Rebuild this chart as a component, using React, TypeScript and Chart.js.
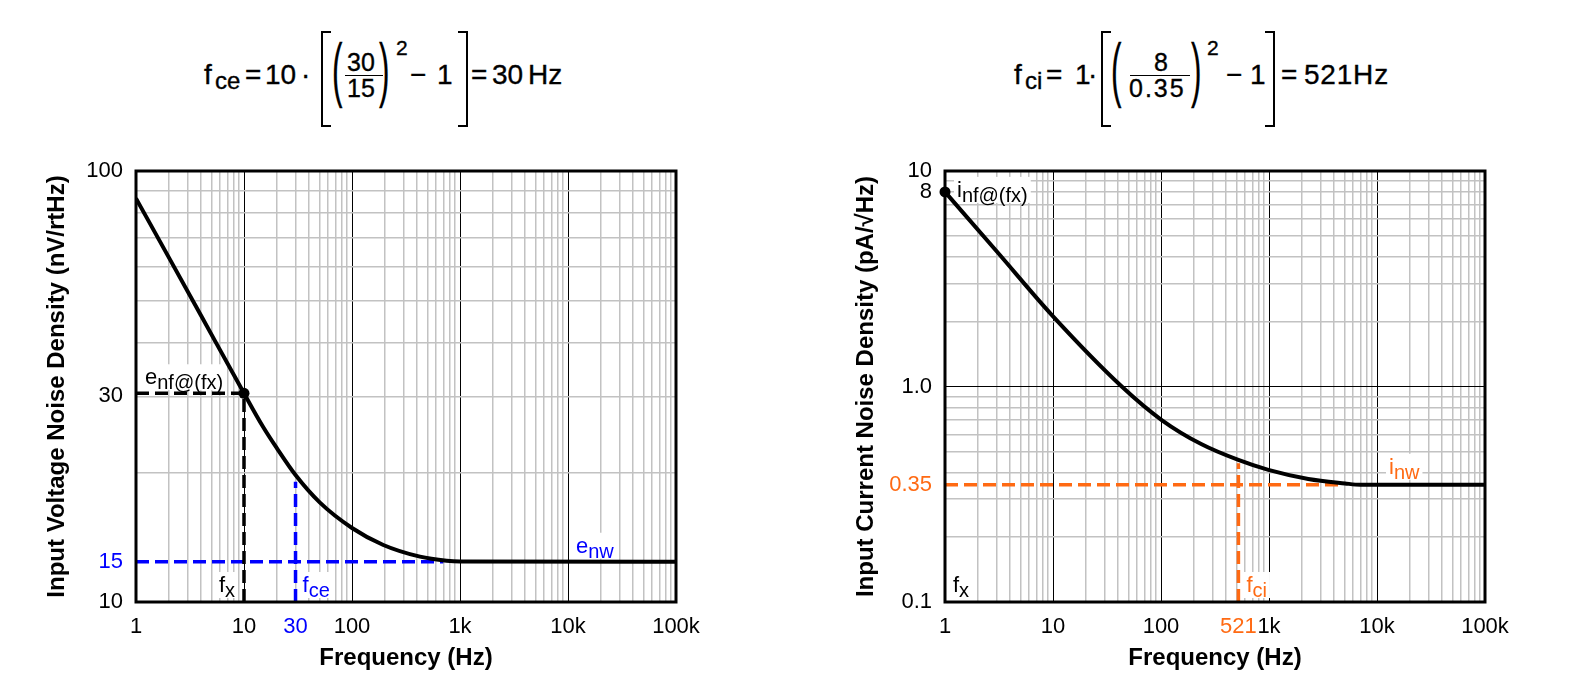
import React, { useEffect, useRef } from "react";
import { Chart, registerables } from "chart.js";
Chart.register(...registerables);

const FONT = "'Liberation Sans', Arial, Helvetica, sans-serif";
const BLUE = "#0000ff";
const ORANGE = "#ff6a13";
const GRID_MINOR = "#c2c2c2";
const GRID_MAJOR = "#000000";

// ---------- Left chart: input voltage noise ----------
const vFreq = [1, 2, 4, 10, 15, 20, 30, 50.5, 100, 195, 426, 753, 1000, 100000];
const vNoise = [86.4, 63.2, 46.2, 30.5, 25.5, 22.8, 19.7, 17.0, 14.85, 13.56, 12.74, 12.47, 12.42, 12.4];
const vFx = 10;
const vEnf = 30.5;
const vFce = 30;
const vFceTop = 19.0;
const vEnw = 12.4;
const vEnwEnd = 700;
const vXTicks = [1, 10, 30, 100, 1000, 10000, 100000];
const vXLabels = ["1", "10", "30", "100", "1k", "10k", "100k"];
const vYTicks = [10, 12.4, 30, 100];
const vYLabels = ["10", "15", "30", "100"];

// ---------- Right chart: input current noise ----------
const iFreq = [1, 3.12, 9.72, 43.3, 101.5, 238, 520, 986, 2312, 5054, 7000, 100000];
const iNoise = [8.0, 4.15, 2.15, 1.0, 0.699, 0.539, 0.456, 0.41, 0.372, 0.355, 0.35, 0.35];
const iFx = 1;
const iInf = 8;
const iFci = 521;
const iFciTop = 0.44;
const iInw = 0.35;
const iInwEnd = 4800;
const iXTicks = [1, 10, 100, 521, 1000, 10000, 100000];
const iXLabels = ["1", "10", "100", "521", "1k", "10k", "100k"];
const iYTicks = [0.1, 0.35, 1, 8, 10];
const iYLabels = ["0.1", "0.35", "1.0", "8", "10"];

function logGrid(min: number, max: number): number[] {
  const out: number[] = [];
  const d0 = Math.floor(Math.log10(min) + 1e-9);
  const d1 = Math.ceil(Math.log10(max) - 1e-9);
  for (let d = d0; d <= d1; d++) {
    for (let m = 1; m <= 9; m++) {
      const v = parseFloat((m * Math.pow(10, d)).toPrecision(6));
      if (v >= min * 0.9999 && v <= max * 1.0001) out.push(v);
    }
  }
  return out;
}

const same = (a: number, b: number) => Math.abs(a - b) <= Math.abs(b) * 1e-6;
const isDecade = (v: number) => Math.abs(Math.log10(v) - Math.round(Math.log10(v))) < 1e-6;

function makeAxis(
  min: number,
  max: number,
  tickVals: number[],
  tickLabels: string[],
  hiVal: number,
  hiColor: string,
  title: string,
  isX: boolean
) {
  const grid = logGrid(min, max);
  const all = [...grid];
  tickVals.forEach((v) => {
    if (!all.some((g) => same(g, v))) all.push(v);
  });
  all.sort((a, b) => a - b);
  const labelOf = (v: number) => {
    const i = tickVals.findIndex((t) => same(t, v));
    return i >= 0 ? tickLabels[i] : "";
  };
  const inGrid = (v: number) => grid.some((g) => same(g, v));
  return {
    type: "logarithmic",
    min,
    max,
    afterBuildTicks: (s: any) => {
      s.ticks = all.map((v) => ({ value: v, major: false }));
    },
    afterFit: (s: any) => {
      if (isX) s.height = 83;
      else s.width = 136;
    },
    border: { display: false },
    grid: {
      drawTicks: false,
      color: (c: any) => {
        const v = c.tick ? c.tick.value : NaN;
        if (!inGrid(v)) return "rgba(0,0,0,0)";
        return isDecade(v) ? GRID_MAJOR : GRID_MINOR;
      },
      lineWidth: (c: any) => {
        const v = c.tick ? c.tick.value : NaN;
        return isDecade(v) ? 1 : 1.5;
      },
    },
    ticks: {
      autoSkip: false,
      maxRotation: 0,
      minRotation: 0,
      padding: isX ? 12 : 13,
      font: { family: FONT, size: 22 },
      color: (c: any) => (c.tick && same(c.tick.value, hiVal) ? hiColor : "#000"),
      callback: (v: any) => labelOf(Number(v)),
    },
    title: {
      display: true,
      text: title,
      color: "#000",
      font: { family: FONT, size: 24, weight: "bold" },
      padding: isX ? { top: 0, bottom: 12 } : { top: 43, bottom: 0 },
    },
  };
}

type Lbl = {
  x: number;
  y: number;
  dx: number;
  dy: number;
  main: string;
  sub: string;
  color: string;
  bg: boolean;
  align?: "left" | "right";
};

function labelPlugin(labels: Lbl[]) {
  return {
    id: "noteLabels",
    beforeDatasetsDraw(chart: any) {
      const { ctx, scales } = chart;
      const xs = scales.x;
      const ys = scales.y;
      ctx.save();
      labels.forEach((l) => {
        const px = xs.getPixelForValue(l.x) + l.dx;
        const py = ys.getPixelForValue(l.y) + l.dy;
        const mainFont = `22px ${FONT}`;
        const subFont = `20px ${FONT}`;
        ctx.font = mainFont;
        const wm = ctx.measureText(l.main).width;
        ctx.font = subFont;
        const ws = ctx.measureText(l.sub).width;
        const w = wm + ws;
        const left = l.align === "right" ? px - w : px;
        if (l.bg) {
          ctx.fillStyle = "#ffffff";
          ctx.fillRect(left - 3, py - 20, w + 6, 26);
        }
        ctx.fillStyle = l.color;
        ctx.textBaseline = "alphabetic";
        ctx.textAlign = "left";
        ctx.font = mainFont;
        ctx.fillText(l.main, left, py);
        ctx.font = subFont;
        ctx.fillText(l.sub, left + wm, py + 5);
      });
      ctx.restore();
    },
  };
}

const framePlugin = {
  id: "frame",
  afterDraw(chart: any) {
    const { ctx, chartArea: a } = chart;
    ctx.save();
    ctx.strokeStyle = "#000";
    ctx.lineWidth = 3;
    ctx.strokeRect(a.left, a.top, a.right - a.left, a.bottom - a.top);
    ctx.restore();
  },
};

const pts = (xs: number[], ys: number[]) => xs.map((x, i) => ({ x, y: ys[i] }));

function dashed(data: any[], color: string) {
  return {
    data,
    borderColor: color,
    borderWidth: 3.5,
    borderDash: [13, 6],
    pointRadius: 0,
    fill: false,
    tension: 0,
    order: 2,
  };
}

function buildConfig(side: "v" | "i") {
  const isV = side === "v";
  const curve = {
    data: isV ? pts(vFreq, vNoise) : pts(iFreq, iNoise),
    borderColor: "#000",
    borderWidth: 4,
    pointRadius: 0,
    fill: false,
    cubicInterpolationMode: "monotone",
    order: 1,
  };
  const dot = {
    data: isV ? [{ x: vFx, y: vEnf }] : [{ x: iFx, y: iInf }],
    showLine: false,
    pointRadius: 5.5,
    pointBackgroundColor: "#000",
    pointBorderColor: "#000",
    pointBorderWidth: 0,
    clip: false,
    order: 0,
  };
  const datasets: any[] = [curve, dot];
  if (isV) {
    datasets.push(dashed([{ x: 1, y: vEnf }, { x: vFx, y: vEnf }], "#000"));
    datasets.push(dashed([{ x: vFx, y: 10 }, { x: vFx, y: vEnf }], "#000"));
    datasets.push(dashed([{ x: 1, y: vEnw }, { x: vEnwEnd, y: vEnw }], BLUE));
    datasets.push(dashed([{ x: vFce, y: 10 }, { x: vFce, y: vFceTop }], BLUE));
  } else {
    datasets.push(dashed([{ x: 1, y: iInw }, { x: iInwEnd, y: iInw }], ORANGE));
    datasets.push(dashed([{ x: iFci, y: 0.1 }, { x: iFci, y: iFciTop }], ORANGE));
  }
  const labels: Lbl[] = isV
    ? [
        { x: 1, y: vEnf, dx: 9, dy: -9, main: "e", sub: "nf@(fx)", color: "#000", bg: true },
        { x: vFx, y: 10, dx: -9, dy: -10, main: "f", sub: "x", color: "#000", bg: true, align: "right" },
        { x: vFce, y: 10, dx: 7, dy: -10, main: "f", sub: "ce", color: BLUE, bg: true },
        { x: 10000, y: vEnw, dx: 8, dy: -9, main: "e", sub: "nw", color: BLUE, bg: true },
      ]
    : [
        { x: iFx, y: iInf, dx: 12, dy: 5, main: "i", sub: "nf@(fx)", color: "#000", bg: true },
        { x: 1, y: 0.1, dx: 8, dy: -10, main: "f", sub: "x", color: "#000", bg: true },
        { x: iFci, y: 0.1, dx: 8, dy: -10, main: "f", sub: "ci", color: ORANGE, bg: true },
        { x: 10000, y: iInw, dx: 12, dy: -11, main: "i", sub: "nw", color: ORANGE, bg: true },
      ];
  const scales = isV
    ? {
        x: makeAxis(1, 100000, vXTicks, vXLabels, 30, BLUE, "Frequency (Hz)", true),
        y: makeAxis(10, 100, vYTicks, vYLabels, 12.4, BLUE, "Input Voltage Noise Density (nV/rtHz)", false),
      }
    : {
        x: makeAxis(1, 100000, iXTicks, iXLabels, 521, ORANGE, "Frequency (Hz)", true),
        y: makeAxis(0.1, 10, iYTicks, iYLabels, 0.35, ORANGE, "Input Current Noise Density (pA/\u221AHz)", false),
      };
  return {
    type: "line",
    data: { datasets },
    options: {
      animation: false,
      responsive: false,
      devicePixelRatio: 1,
      events: [],
      parsing: true,
      layout: { padding: { top: 31, right: 44, bottom: 0, left: 0 } },
      plugins: { legend: { display: false }, tooltip: { enabled: false } },
      scales,
    },
    plugins: [labelPlugin(labels), framePlugin],
  };
}

function NoiseChart({ side, left }: { side: "v" | "i"; left: number }) {
  const ref = useRef<HTMLCanvasElement | null>(null);
  useEffect(() => {
    if (!ref.current) return;
    const chart = new Chart(ref.current, buildConfig(side) as any);
    return () => chart.destroy();
  }, [side]);
  return (
    <canvas
      ref={ref}
      width={720}
      height={545}
      style={{ position: "absolute", left, top: 140, width: 720, height: 545 }}
    />
  );
}

function T({ x, base, size = 28, color = "#000", sx = 1, ls = 0, children }: any) {
  return (
    <span
      style={{
        position: "absolute",
        left: x,
        top: base - 0.85 * size,
        fontSize: size,
        lineHeight: `${size}px`,
        fontFamily: FONT,
        color,
        whiteSpace: "pre",
        letterSpacing: ls,
        WebkitTextStroke: "0.35px #000",
        transform: `scaleX(${sx})`,
        transformOrigin: "left center",
      }}
    >
      {children}
    </span>
  );
}

function Bracket({ x, side }: { x: number; side: "l" | "r" }) {
  const b = "2.5px solid #000";
  return (
    <div
      style={{
        position: "absolute",
        left: x,
        top: 31,
        width: 8,
        height: 92,
        borderTop: b,
        borderBottom: b,
        borderLeft: side === "l" ? b : "none",
        borderRight: side === "r" ? b : "none",
      }}
    />
  );
}

function Bar({ x, w }: { x: number; w: number }) {
  return <div style={{ position: "absolute", left: x, top: 75, width: w, height: 0, borderTop: "1.8px solid #000" }} />;
}

function Paren({ x, ch }: { x: number; ch: string }) {
  return (
    <T x={x} base={93} size={70} sx={0.45}>
      {ch}
    </T>
  );
}

function Formulas() {
  return (
    <div style={{ position: "absolute", left: 0, top: 0, width: 1591, height: 140 }}>
      {/* left formula */}
      <T x={204} base={85}>f</T>
      <T x={215} base={89} size={24}>ce</T>
      <T x={245} base={85}>=</T>
      <T x={265} base={85}>10</T>
      <T x={301} base={85}>·</T>
      <Bracket x={321} side="l" />
      <Paren x={332} ch="(" />
      <T x={347} base={71} size={25}>30</T>
      <Bar x={345} w={38} />
      <T x={347} base={97} size={25}>15</T>
      <Paren x={379} ch=")" />
      <T x={396} base={55} size={21}>2</T>
      <T x={410} base={85}>{"\u2212"}</T>
      <T x={437} base={85}>1</T>
      <Bracket x={458} side="r" />
      <T x={471} base={85}>=</T>
      <T x={492} base={85}>30</T>
      <T x={528} base={85}>Hz</T>

      {/* right formula */}
      <T x={1014} base={85}>f</T>
      <T x={1025} base={89} size={24}>ci</T>
      <T x={1046} base={85}>=</T>
      <T x={1075} base={85}>1</T>
      <T x={1088} base={85}>·</T>
      <Bracket x={1101} side="l" />
      <Paren x={1111} ch="(" />
      <T x={1154} base={71} size={25}>8</T>
      <Bar x={1130} w={60} />
      <T x={1129} base={97} size={25} ls={2}>0.35</T>
      <Paren x={1191} ch=")" />
      <T x={1207} base={55} size={21}>2</T>
      <T x={1226} base={85}>{"\u2212"}</T>
      <T x={1250} base={85}>1</T>
      <Bracket x={1265} side="r" />
      <T x={1281} base={85}>=</T>
      <T x={1304} base={85} ls={0.8}>521Hz</T>
    </div>
  );
}

export default function App() {
  return (
    <div style={{ position: "absolute", left: 0, top: 0, width: 1591, height: 685, background: "#fff", overflow: "hidden" }}>
      <Formulas />
      <NoiseChart side="v" left={0} />
      <NoiseChart side="i" left={809} />
    </div>
  );
}
